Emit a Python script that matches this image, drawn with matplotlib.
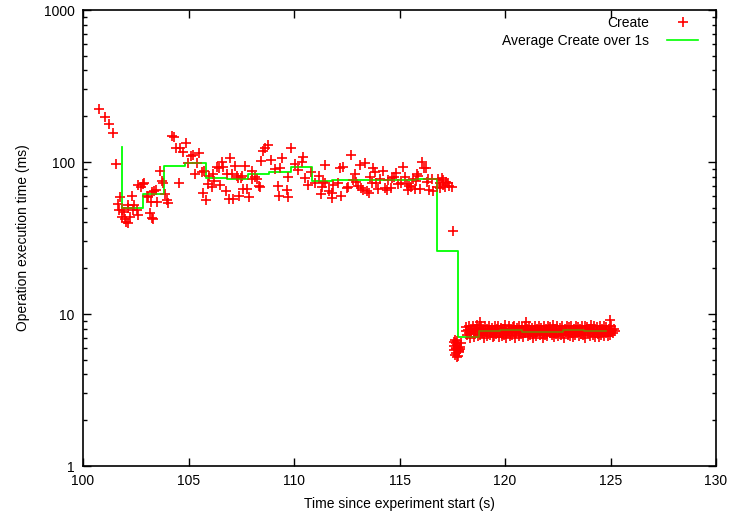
import matplotlib
matplotlib.use("Agg")
import matplotlib.pyplot as plt
from matplotlib.ticker import LogLocator, FixedLocator, NullFormatter

plt.rcParams['font.family'] = ['Liberation Sans', 'DejaVu Sans']

# sparse "Create" samples (time s, execution time ms)
sparse_t = [100.77, 101.03, 101.22, 101.41, 101.56,
            101.75, 101.64, 101.72, 101.83, 101.96, 101.86, 102.04, 102.12, 101.99, 102.15,
            102.31, 102.15, 102.35, 102.43, 102.54, 102.62, 102.23,
            102.62, 102.75, 102.86, 102.90,
            103.02, 103.10, 103.26, 103.37, 103.46, 103.52, 103.22,
            103.65, 103.73, 103.78, 103.89, 104.00, 104.04, 103.18, 103.26, 103.30,
            104.20, 104.31, 104.41, 104.60, 104.72, 104.88, 105.10, 105.20, 105.51, 104.99,
            105.42, 104.55, 105.31, 105.62, 105.75, 105.98, 106.15, 106.21, 106.34, 106.46,
            106.57, 106.65, 106.97, 107.20, 107.68, 106.81, 107.04, 107.28, 107.52, 107.36,
            107.47, 105.94, 106.10, 106.49, 105.70, 105.83, 106.78, 106.93, 107.12, 107.41,
            107.57, 107.79, 107.88, 108.00, 107.99, 108.15, 108.26, 108.35,
            108.78, 108.62, 108.54, 109.86, 108.44, 108.91, 109.45, 110.44, 110.37, 110.05,
            109.10, 109.34, 110.20, 111.47, 112.18, 112.34, 109.73, 110.52, 110.81, 111.20,
            108.41, 109.23, 109.65, 110.65, 111.00, 111.39, 111.47, 111.31, 111.66, 111.78,
            112.07, 111.86, 109.29, 109.70, 111.28, 111.82, 112.23,
            112.70, 113.13, 113.37, 113.76, 113.84, 114.23, 112.89, 114.83, 115.15, 115.26,
            116.05, 116.26, 116.16, 115.84, 115.89, 114.47, 114.63, 114.74, 113.60, 114.08,
            113.90, 113.69, 112.81, 112.94, 112.57, 112.49, 113.04, 113.16, 113.28, 113.44,
            113.57, 113.99, 114.31, 114.39, 114.58, 114.94, 115.06, 115.34, 115.47, 115.53,
            115.42, 115.73, 115.97, 115.65, 115.78, 116.36, 116.52, 116.28, 116.41, 116.60,
            116.84, 117.00, 117.07, 117.20, 117.31, 116.76, 116.92, 117.05, 117.16, 117.36,
            117.48, 116.92, 117.52]
sparse_v = [224, 198, 178, 155, 97,
            59, 53.3, 48, 48, 47, 43.5, 40.2, 39.6, 41.9, 52.1,
            59.7, 49.8, 48.3, 52.1, 48.3, 44.8, 43.5,
            70.6, 68.8, 71.4, 72.6,
            59.7, 58.5, 63.6, 64.4, 65.4, 54.8, 54.3,
            87.5, 75.4, 73, 62, 56.2, 53.7, 45.9, 43, 42,
            148, 146, 124, 124, 117, 134, 109, 112, 114, 98.5,
            98.5, 72.4, 83, 85.5, 87, 81, 83, 75.4, 92.3, 90.8,
            99.4, 92.9, 106.6, 94.7, 94.7, 83, 83, 81, 81, 78,
            78, 71.4, 68, 70.6, 63, 56.2, 64.6, 57, 57.3, 59.7,
            66, 66.4, 58.5, 87.5, 77, 79.3, 77, 69.5,
            129, 123, 119, 124, 101, 103, 106, 108, 100, 97,
            89.7, 91.7, 88.4, 96, 91, 93, 80.1, 78.7, 86.5, 80.7,
            68.8, 69.9, 65.4, 70.6, 73, 74, 72.6, 68.8, 64.6, 63,
            72.6, 70.6, 59.7, 59, 61.7, 57.7, 59.7,
            112, 96, 98.3, 91, 86, 87.5, 83, 85, 93, 79.3,
            100.4, 91.7, 91, 83, 80.7, 76, 78.5, 79.3, 79.3, 77,
            73.1, 72.6, 76, 74, 68.8, 67.5, 69.5, 67.5, 65.4, 64.4,
            63, 66, 67.5, 65.4, 67.5, 71.4, 72.6, 72, 69.5, 68.8,
            65.4, 66, 66.4, 77, 75.4, 77, 77, 74, 65.4, 64.4,
            77, 78.7, 76, 74, 72.6, 68.8, 67.5, 70.6, 68.8, 69.5,
            68.8, 72.8, 35.2]

# small cluster right after the drop
dip_t = [117.58, 117.66, 117.72, 117.80, 117.86, 117.62, 117.74, 117.84, 117.68, 117.78,
         117.56, 117.90, 117.70, 117.64, 117.82, 117.76, 117.88, 117.60, 117.74, 117.67]
dip_v = [6.5, 5.9, 6.3, 5.6, 6.1, 5.4, 6.6, 5.8, 6.0, 5.3,
         6.2, 6.4, 5.5, 6.7, 5.7, 6.0, 5.9, 5.8, 5.2, 6.4]

# dense band after 118 s
band_t = [118.15, 118.17, 118.21, 118.24, 118.28, 118.30, 118.34, 118.38, 118.40, 118.44,
          118.47, 118.51, 118.53, 118.57, 118.60, 118.64, 118.67, 118.70, 118.74, 118.77,
          118.80, 118.84, 118.87, 118.90, 118.94, 118.97, 119.00, 119.04, 119.07, 119.10,
          119.14, 119.17, 119.21, 119.24, 119.27, 119.31, 119.34, 119.37, 119.41, 119.44,
          119.47, 119.51, 119.54, 119.57, 119.61, 119.64, 119.67, 119.71, 119.74, 119.77,
          119.81, 119.84, 119.87, 119.91, 119.94, 119.97, 120.01, 120.04, 120.07, 120.11,
          120.14, 120.17, 120.21, 120.24, 120.27, 120.31, 120.34, 120.37, 120.41, 120.44,
          120.47, 120.51, 120.54, 120.57, 120.61, 120.64, 120.67, 120.71, 120.74, 120.77,
          120.81, 120.84, 120.87, 120.91, 120.94, 120.97, 121.01, 121.04, 121.07, 121.11,
          121.14, 121.17, 121.21, 121.24, 121.27, 121.31, 121.34, 121.37, 121.41, 121.44,
          121.47, 121.51, 121.54, 121.57, 121.61, 121.64, 121.67, 121.71, 121.74, 121.77,
          121.81, 121.84, 121.87, 121.91, 121.94, 121.97, 122.01, 122.04, 122.07, 122.11,
          122.14, 122.17, 122.21, 122.24, 122.27, 122.31, 122.34, 122.37, 122.41, 122.44,
          122.47, 122.51, 122.54, 122.57, 122.61, 122.64, 122.67, 122.71, 122.74, 122.77,
          122.81, 122.84, 122.87, 122.91, 122.94, 122.97, 123.01, 123.04, 123.07, 123.11,
          123.14, 123.17, 123.21, 123.24, 123.27, 123.31, 123.34, 123.37, 123.41, 123.44,
          123.47, 123.51, 123.54, 123.57, 123.61, 123.64, 123.67, 123.71, 123.74, 123.77,
          123.81, 123.84, 123.87, 123.91, 123.94, 123.97, 124.01, 124.04, 124.07, 124.11,
          124.14, 124.17, 124.21, 124.24, 124.27, 124.31, 124.34, 124.37, 124.41, 124.44,
          124.47, 124.51, 124.54, 124.57, 124.61, 124.64, 124.67, 124.71, 124.74, 124.77,
          124.81, 124.84, 124.87, 124.91, 124.94, 124.97, 125.01, 125.04, 125.08, 125.12,
          125.16, 125.20, 118.82, 121.00, 124.98]
band_v = [7.7, 8.2, 7.3, 7.9, 8.4, 7.5, 7.0, 8.0, 7.6, 7.8,
          8.3, 7.1, 7.7, 8.0, 7.4, 7.9, 8.5, 7.2, 7.6, 8.1,
          7.3, 7.8, 8.3, 7.5, 7.7, 8.0, 7.0, 7.9, 8.4, 7.6,
          8.0, 7.2, 7.7, 8.3, 7.3, 7.9, 7.5, 8.1, 7.1, 7.8,
          7.2, 8.4, 7.7, 7.4, 8.0, 7.6, 8.3, 7.1, 7.9, 7.5,
          8.1, 7.7, 7.2, 8.0, 7.8, 7.3, 8.5, 7.6, 7.0, 7.9,
          7.5, 8.3, 7.7, 7.2, 8.0, 7.8, 7.3, 8.2, 7.6, 8.4,
          7.0, 7.9, 7.5, 8.1, 7.7, 7.2, 8.3, 7.6, 7.9, 7.4,
          8.2, 7.8, 7.1, 7.6, 8.4, 7.5, 7.9, 8.0, 7.2, 7.7,
          8.3, 7.3, 7.8, 7.6, 8.1, 7.0, 7.9, 7.5, 8.4, 7.7,
          7.2, 8.0, 7.6, 7.8, 8.3, 7.3, 7.7, 8.1, 7.4, 7.9,
          7.0, 8.4, 7.6, 7.3, 8.0, 7.8, 7.2, 8.3, 7.7, 7.5,
          8.2, 7.9, 7.3, 7.6, 8.5, 7.1, 7.8, 8.0, 7.4, 7.7,
          8.3, 7.2, 7.9, 7.6, 8.1, 7.3, 7.8, 8.4, 7.5, 7.7,
          7.0, 8.0, 7.6, 7.9, 8.3, 7.3, 7.7, 8.2, 7.2, 7.8,
          8.4, 7.5, 7.9, 7.1, 8.0, 7.7, 7.3, 8.3, 7.6, 7.8,
          8.2, 7.2, 7.7, 8.0, 7.4, 7.9, 8.4, 7.3, 7.6, 8.3,
          7.0, 7.8, 8.2, 7.5, 7.7, 8.0, 7.2, 7.9, 8.5, 7.6,
          8.0, 7.3, 7.7, 8.3, 7.1, 7.9, 7.6, 8.2, 7.4, 7.8,
          7.1, 8.4, 7.7, 7.3, 8.0, 7.6, 8.3, 7.2, 7.9, 7.5,
          8.2, 7.7, 7.2, 8.0, 7.8, 7.3, 8.3, 7.6, 7.9, 7.5,
          8.0, 7.7, 8.8, 8.9, 9.1]

# 1 s averages (step line)
avg_t = [101.83, 102.86, 103.84, 104.83, 105.83, 106.84, 107.84, 108.83, 109.84, 110.84,
         111.80, 112.80, 113.80, 114.80, 115.80, 116.79, 117.79, 118.78, 119.76, 120.79,
         121.77, 122.75, 123.76, 124.77]
avg_v = [126, 50, 62, 94.6, 98.5, 78.9, 77.6, 83.3, 86.3, 92.6,
         75.3, 76, 76, 76, 76.5, 77, 26, 7.03, 7.77, 7.84,
         7.65, 7.65, 7.84, 7.77]

all_t = sparse_t + dip_t + band_t
all_v = sparse_v + dip_v + band_v

fig = plt.figure(figsize=(7.33, 5.16), dpi=100)
ax = fig.add_axes([83 / 733, 1 - 466 / 516, (716 - 83) / 733, (466 - 10) / 516])

ax.step(avg_t, avg_v, where='pre', color='#00ff00', lw=1.2, zorder=2)
ax.plot(all_t, all_v, linestyle='none', marker='+', color='red',
        markersize=6.5, markeredgewidth=1.2, zorder=3, label='Create')
ax.step(avg_t, avg_v, where='pre', color='#00ff00', lw=1.2, alpha=0.5, zorder=4,
        label='Average Create over 1s')

ax.set_yscale('log')
ax.set_xlim(100, 130)
ax.set_ylim(1, 1000)
ax.xaxis.set_major_locator(FixedLocator([100, 105, 110, 115, 120, 125, 130]))
ax.yaxis.set_major_locator(FixedLocator([1, 10, 100, 1000]))
ax.yaxis.set_minor_locator(LogLocator(base=10, subs=range(2, 10)))
ax.yaxis.set_minor_formatter(NullFormatter())
ax.set_yticklabels(['1', '10', '100', '1000'])

ax.tick_params(which='both', direction='in', top=True, right=True, labelsize=10, colors='black')
ax.tick_params(which='major', length=6, width=1, pad=6)
ax.tick_params(which='minor', length=3, width=1)
for s in ax.spines.values():
    s.set_linewidth(1.2)

ax.set_xlabel('Time since experiment start (s)', fontsize=10, labelpad=6)
ax.set_ylabel('Operation execution time (ms)', fontsize=10, labelpad=10)

h, l = ax.get_legend_handles_labels()
leg = ax.legend(h, l, loc='upper right', bbox_to_anchor=(0.987, 1.008), frameon=False,
                markerfirst=False, fontsize=10, handlelength=2.2, handletextpad=1.35,
                labelspacing=0.25, borderaxespad=0.3)
for t in leg.get_texts():
    t.set_ha('right')
leg.legend_handles[1].set_alpha(1.0)

fig.savefig('out.png', dpi=100)
